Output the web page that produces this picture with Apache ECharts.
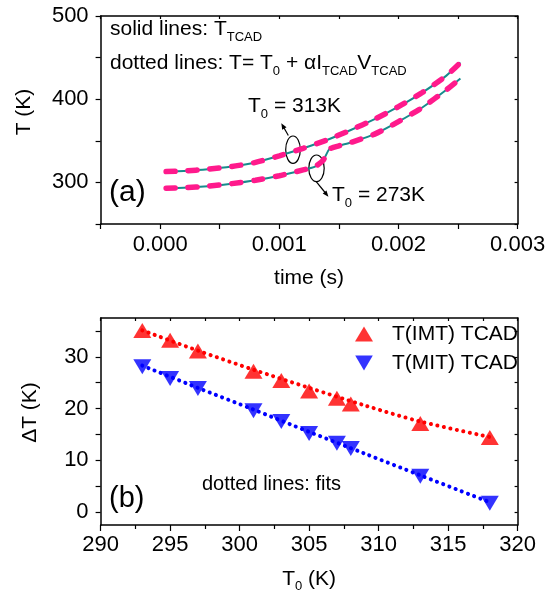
<!DOCTYPE html>
<html>
<head>
<meta charset="utf-8">
<script src="https://cdn.jsdelivr.net/npm/echarts@6/dist/echarts.min.js"></script>
<style>
html, body { margin: 0; padding: 0; background: #fff; }
#main { width: 545px; height: 593px; }
</style>
</head>
<body>
<div id="main"></div>
<script>
// panel (a): temperature vs time, two starting temperatures
var timeHot = [0.00005, 0.0002, 0.0004, 0.0006, 0.0008, 0.0010, 0.0012, 0.0014, 0.0016, 0.0018, 0.0020, 0.0022, 0.0024, 0.00252];
var tempHot = [313, 313.8, 315.8, 319, 324, 332, 341, 351, 363, 376, 391, 408, 428, 444];
var timeCold = [0.00005, 0.0002, 0.0004, 0.0006, 0.0008, 0.0010, 0.0012, 0.0013, 0.00137, 0.00142, 0.0015, 0.0016, 0.0018, 0.0020, 0.0022, 0.0024, 0.00252];
var tempCold = [293, 293.6, 295.5, 298.5, 302.5, 308, 315, 319, 327, 340, 344, 348, 358, 373, 390, 411, 425];
var timeLabels = [0, 0.001, 0.002, 0.003];
var tempLabels = [300, 400, 500];

// panel (b): delta T vs T0
var t0Vals = [293, 295, 297, 301, 303, 305, 307, 308, 313, 318];
var dtImt = [35.1, 33.2, 31.1, 27.2, 25.4, 23.4, 22.0, 20.9, 17.1, 14.4];
var dtMit = [28.1, 25.8, 23.9, 19.6, 17.5, 15.2, 13.3, 12.3, 6.9, 1.7];
var fitT0 = [293, 297, 301, 305, 309, 313, 318];
var fitImt = [35.1, 31.2, 27.5, 24.0, 20.6, 17.5, 14.5];
var fitMit = [28.3, 24.0, 19.8, 15.5, 11.3, 7.1, 1.9];
var dtLabels = [0, 10, 20, 30];
var dtTicks = [0, 5, 10, 15, 20, 25, 30, 35];

var FONT = "'Liberation Sans', Arial, sans-serif";
var TEAL = '#168c8c';
var PINK = '#ff1a8c';

function pairs(xs, ys) {
  return xs.map(function (x, i) { return [x, ys[i]]; });
}

var lineBlack = { show: true, onZero: false, lineStyle: { color: '#000', width: 1.5 } };
var labelStyle = { color: '#000', fontSize: 22, fontFamily: FONT };

// rich styles for subscripts
var richSub = {
  m: { fontSize: 21, lineHeight: 28, fontFamily: FONT, fill: '#000', color: '#000' },
  s: { fontSize: 13, lineHeight: 12, verticalAlign: 'bottom', fontFamily: FONT, fill: '#000', color: '#000' }
};

// box axes on top / right: ticks pointing inward, no labels
function frameAxis(extra) {
  var a = {
    type: 'value',
    axisLine: lineBlack,
    axisTick: { show: true, inside: true, length: 3, lineStyle: { color: '#000', width: 1.2 } },
    axisLabel: { show: false },
    splitLine: { show: false }
  };
  for (var k in extra) a[k] = extra[k];
  return a;
}

var chart = echarts.init(document.getElementById('main'));

var option = {
  backgroundColor: '#fff',
  animation: false,
  textStyle: { fontFamily: FONT },
  grid: [
    { left: 100.6, top: 16, width: 417, height: 208, outerBoundsMode: 'none', containLabel: false },
    { left: 100.6, top: 318, width: 417, height: 207, outerBoundsMode: 'none', containLabel: false }
  ],
  xAxis: [
    {
      gridIndex: 0, type: 'value', min: -0.0005, max: 0.003, interval: 0.0005,
      axisLine: lineBlack,
      axisTick: { show: true, length: 5, lineStyle: { color: '#000', width: 1.2 } },
      axisLabel: Object.assign({ customValues: timeLabels, margin: 10, formatter: function (v) { return v.toFixed(3); } }, labelStyle),
      splitLine: { show: false },
      name: 'time (s)', nameLocation: 'middle', nameGap: 44,
      nameTextStyle: { color: '#000', fontSize: 21, fontFamily: FONT }
    },
    frameAxis({ gridIndex: 0, position: 'top', min: -0.0005, max: 0.003, interval: 0.0005 }),
    {
      gridIndex: 1, type: 'value', min: 290, max: 320, interval: 5,
      axisLine: lineBlack,
      axisTick: { show: true, length: 6, lineStyle: { color: '#000', width: 1.2 } },
      minorTick: { show: true, splitNumber: 2, length: 4, lineStyle: { color: '#000', width: 1.2 } },
      axisLabel: Object.assign({ margin: 9 }, labelStyle),
      splitLine: { show: false },
      name: '{m|T}{s|0}{m| (K)}', nameLocation: 'middle', nameGap: 40,
      nameTextStyle: { color: '#000', fontFamily: FONT, rich: richSub }
    },
    frameAxis({ gridIndex: 1, position: 'top', min: 290, max: 320, interval: 2.5 })
  ],
  yAxis: [
    {
      gridIndex: 0, type: 'value', min: 250, max: 500, interval: 50,
      axisLine: lineBlack,
      axisTick: { show: true, length: 5, lineStyle: { color: '#000', width: 1.2 } },
      axisLabel: Object.assign({ customValues: tempLabels, margin: 12 }, labelStyle),
      splitLine: { show: false },
      name: 'T (K)', nameLocation: 'middle', nameGap: 66,
      nameTextStyle: { color: '#000', fontSize: 21, fontFamily: FONT, padding: [0, 0, 0, 16] }
    },
    frameAxis({ gridIndex: 0, position: 'right', min: 250, max: 500, interval: 50 }),
    {
      gridIndex: 1, type: 'value', min: -2.5, max: 37.5,
      axisLine: lineBlack,
      axisTick: { show: true, length: 5, customValues: dtTicks, lineStyle: { color: '#000', width: 1.2 } },
      axisLabel: Object.assign({ customValues: dtLabels, margin: 12 }, labelStyle),
      splitLine: { show: false },
      name: 'ΔT (K)', nameLocation: 'middle', nameGap: 60,
      nameTextStyle: { color: '#000', fontSize: 21, fontFamily: FONT, padding: [0, 0, 0, 18] }
    },
    frameAxis({ gridIndex: 1, position: 'right', min: -2.5, max: 37.5, axisTick: { show: true, inside: true, length: 3, customValues: dtTicks, lineStyle: { color: '#000', width: 1.2 } } })
  ],
  legend: {
    data: [
      { name: 'T(IMT) TCAD', icon: 'triangle', symbolRotate: 0 },
      { name: 'T(MIT) TCAD', icon: 'path://M0,0L20,0L10,17Z', symbolRotate: 0 }
    ],
    orient: 'vertical', left: 350, top: 318,
    itemWidth: 18, itemHeight: 15, itemGap: 7,
    textStyle: { color: '#000', fontSize: 21, lineHeight: 22, fontFamily: FONT, padding: [0, 0, 0, 14] }
  },
  series: [
    { name: 'tcad313', type: 'line', xAxisIndex: 0, yAxisIndex: 0, data: pairs(timeHot, tempHot), showSymbol: false, smooth: 0.2, lineStyle: { color: TEAL, width: 2 } },
    { name: 'model313', type: 'line', xAxisIndex: 0, yAxisIndex: 0, data: pairs(timeHot, tempHot), showSymbol: false, smooth: 0.2, lineStyle: { color: PINK, width: 5.5, type: [9, 13], cap: 'round' } },
    { name: 'tcad273', type: 'line', xAxisIndex: 0, yAxisIndex: 0, data: pairs(timeCold, tempCold), showSymbol: false, smooth: 0.2, lineStyle: { color: TEAL, width: 2 } },
    { name: 'model273', type: 'line', xAxisIndex: 0, yAxisIndex: 0, data: pairs(timeCold, tempCold), showSymbol: false, smooth: 0.2, lineStyle: { color: PINK, width: 5.5, type: [9, 13], cap: 'round' } },
    { name: 'fitImt', type: 'line', xAxisIndex: 2, yAxisIndex: 2, data: pairs(fitT0, fitImt), showSymbol: false, smooth: 0.3, lineStyle: { color: '#ff0000', width: 4, type: [0.1, 6.5], cap: 'round' } },
    { name: 'fitMit', type: 'line', xAxisIndex: 2, yAxisIndex: 2, data: pairs(fitT0, fitMit), showSymbol: false, smooth: 0.3, lineStyle: { color: '#0000ff', width: 4, type: [0.1, 6.5], cap: 'round' } },
    { name: 'T(IMT) TCAD', type: 'scatter', xAxisIndex: 2, yAxisIndex: 2, data: pairs(t0Vals, dtImt), symbol: 'triangle', symbolSize: [18, 15], itemStyle: { color: '#ff0000' } },
    { name: 'T(MIT) TCAD', type: 'scatter', xAxisIndex: 2, yAxisIndex: 2, data: pairs(t0Vals, dtMit), symbol: 'triangle', symbolRotate: 180, symbolSize: [18, 15], itemStyle: { color: '#0000ff' } }
  ],
  graphic: [
    // notes in panel (a)
    { type: 'text', left: 110, top: 19, style: { text: '{m|solid lines: T}{s|TCAD}', rich: richSub } },
    { type: 'text', left: 110, top: 53, style: { text: '{m|dotted lines: T= T}{s|0}{m| + αI}{s|TCAD}{m|V}{s|TCAD}', rich: richSub } },
    { type: 'text', left: 248, top: 96, style: { text: '{m|T}{s|0}{m| = 313K}', rich: richSub } },
    { type: 'text', left: 332, top: 185, style: { text: '{m|T}{s|0}{m| = 273K}', rich: richSub } },
    { type: 'text', left: 109, top: 178, style: { text: '(a)', fontSize: 30, fontFamily: FONT, fill: '#000' } },
    { type: 'ellipse', shape: { cx: 293, cy: 149.7, rx: 7.3, ry: 13.7 }, style: { fill: 'none', stroke: '#000', lineWidth: 1.2 } },
    { type: 'ellipse', shape: { cx: 316.5, cy: 168.3, rx: 7.7, ry: 13.3 }, style: { fill: 'none', stroke: '#000', lineWidth: 1.2 } },
    { type: 'line', shape: { x1: 288.3, y1: 135.5, x2: 283.5, y2: 127 }, style: { stroke: '#000', lineWidth: 1.2 } },
    { type: 'polygon', shape: { points: [[281.3, 123.3], [286.5, 127.2], [282.2, 129.8]] }, style: { fill: '#000' } },
    { type: 'line', shape: { x1: 316.2, y1: 181.7, x2: 325.5, y2: 193 }, style: { stroke: '#000', lineWidth: 1.2 } },
    { type: 'polygon', shape: { points: [[328.4, 196.7], [326.5, 190.4], [322.7, 193.6]] }, style: { fill: '#000' } },
    // notes in panel (b)
    { type: 'text', left: 202, top: 474, style: { text: 'dotted lines: fits', fontSize: 20, fontFamily: FONT, fill: '#000' } },
    { type: 'text', left: 109, top: 484, style: { text: '(b)', fontSize: 29, fontFamily: FONT, fill: '#000' } }
  ]
};

chart.setOption(option);
</script>
</body>
</html>
